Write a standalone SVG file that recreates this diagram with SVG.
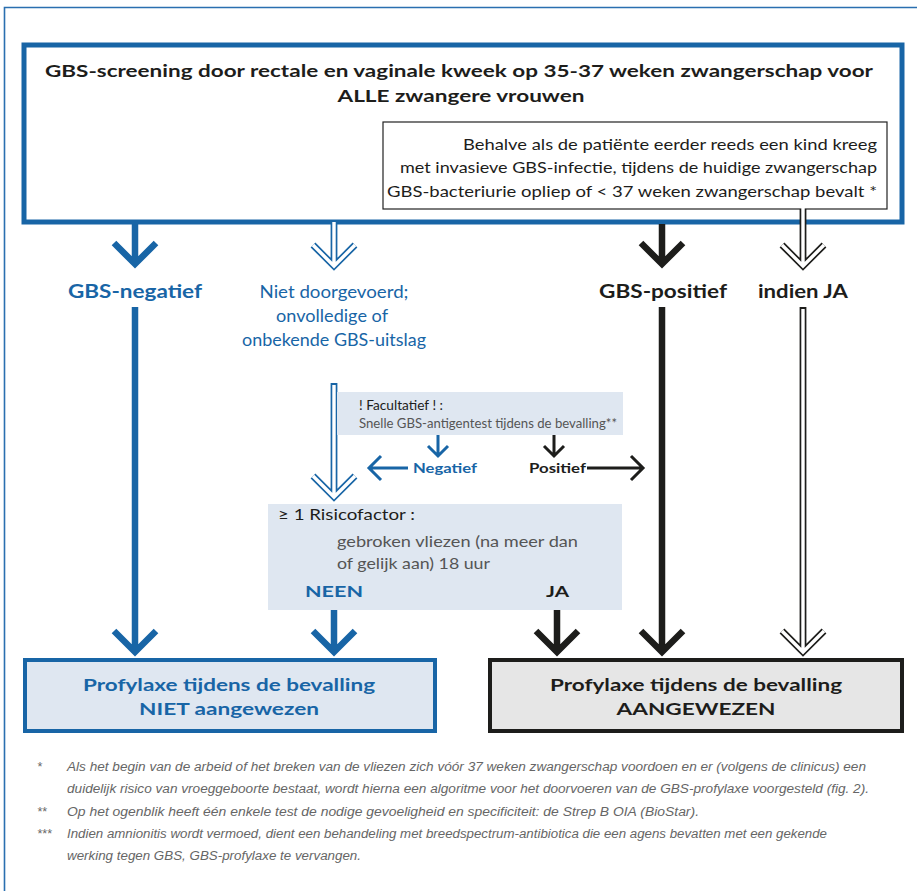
<svg xmlns="http://www.w3.org/2000/svg" width="917" height="891" viewBox="0 0 917 891">
<style>
text{font-family:Lato,"Open Sans","Liberation Sans",sans-serif}
.b{font-weight:bold}
.blue{fill:#1865a6}
.blk{fill:#1d1d1b}
.gry{fill:#555}
.fn{font-family:"Liberation Sans","DejaVu Sans",sans-serif;font-size:12.5px;font-style:italic;fill:#666}
.sb{fill:none;stroke:#1865a6;stroke-linejoin:miter;stroke-linecap:butt}
.sk{fill:none;stroke:#1d1d1b;stroke-linejoin:miter;stroke-linecap:butt}
.hw{fill:none;stroke:#fff;stroke-width:3.4;stroke-linejoin:miter;stroke-linecap:butt}
</style>
<g id="frame">
<path d="M4.5 891 V7.5 H917" fill="none" stroke="#2a6fb0" stroke-width="1.6"/>
</g>
<g id="screening">
<rect x="24" y="45" width="878" height="177" fill="#fff" stroke="#1865a6" stroke-width="5"/>
<text class="b blk" x="459" y="77" font-size="17.5" text-anchor="middle" textLength="828" lengthAdjust="spacingAndGlyphs">GBS-screening door rectale en vaginale kweek op 35-37 weken zwangerschap voor</text>
<text class="b blk" x="461" y="102" font-size="17.5" text-anchor="middle" textLength="247" lengthAdjust="spacingAndGlyphs">ALLE zwangere vrouwen</text>
</g>
<g id="behalve">
<rect x="383" y="122" width="504" height="87" fill="#fff" stroke="#222" stroke-width="1.2"/>
<text class="blk" x="877" y="150" font-size="15" text-anchor="end" textLength="414" lengthAdjust="spacingAndGlyphs">Behalve als de patiënte eerder reeds een kind kreeg</text>
<text class="blk" x="877" y="173" font-size="15" text-anchor="end" textLength="477" lengthAdjust="spacingAndGlyphs">met invasieve GBS-infectie, tijdens de huidige zwangerschap</text>
<text class="blk" x="877" y="197" font-size="15" text-anchor="end" textLength="490" lengthAdjust="spacingAndGlyphs">GBS-bacteriurie opliep of &lt; 37 weken zwangerschap bevalt *</text>
</g>
<g id="connectors">
<path class="sb" stroke-width="6.5" d="M135 224 V262 M114 243 L135 264 L156 243"/>
<path class="sb" stroke-width="6.5" d="M135 307 V650 M114 631 L135 652 L156 631"/>
<path class="sb" stroke-width="6.8" d="M334 224 V264 M313 245 L334 266 L355 245"/>
<path class="hw" d="M334 222 V264 M313 245 L334 266 L355 245"/>
<path class="sb" stroke-width="6.8" d="M334 383 V495 M313 476 L334 497 L355 476"/>
<path class="hw" d="M334 385 V495 M313 476 L334 497 L355 476"/>
<path class="sk" stroke-width="6.5" d="M662 224 V262 M641 243 L662 264 L683 243"/>
<path class="sk" stroke-width="6.5" d="M662 307 V650 M641 631 L662 652 L683 631"/>
<path class="sk" stroke-width="6.8" d="M803 209 V264 M782 245 L803 266 L824 245"/>
<path class="hw" d="M803 208 V264 M782 245 L803 266 L824 245"/>
<path class="sk" stroke-width="6.8" d="M803 307 V650 M782 631 L803 652 L824 631"/>
<path class="hw" d="M803 309 V650 M782 631 L803 652 L824 631"/>
<path class="sb" stroke-width="6.5" d="M334 610 V650 M313 631 L334 652 L355 631"/>
<path class="sk" stroke-width="6.5" d="M557 610 V650 M536 631 L557 652 L578 631"/>
<path class="sb" stroke-width="3" d="M438 435 V455 M428 446 L438 456 L448 446"/>
<path class="sk" stroke-width="3" d="M554 435 V455 M544 446 L554 456 L564 446"/>
<path class="sb" stroke-width="3" d="M408 468 H369 M381 456 L369 468 L381 480"/>
<path class="sk" stroke-width="3" d="M587 468 H643 M631 456 L643 468 L631 480"/>
</g>
<g id="lbl-negatief">
<text class="b blue" x="135" y="298" font-size="18" text-anchor="middle" textLength="134" lengthAdjust="spacingAndGlyphs">GBS-negatief</text>
</g>
<g id="lbl-niet">
<text class="blue" x="334" y="298" font-size="17" text-anchor="middle" textLength="149" lengthAdjust="spacingAndGlyphs">Niet doorgevoerd;</text>
<text class="blue" x="332" y="322" font-size="17" text-anchor="middle" textLength="112" lengthAdjust="spacingAndGlyphs">onvolledige of</text>
<text class="blue" x="334" y="346" font-size="17" text-anchor="middle" textLength="184" lengthAdjust="spacingAndGlyphs">onbekende GBS-uitslag</text>
</g>
<g id="lbl-positief">
<text class="b blk" x="663" y="298" font-size="18" text-anchor="middle" textLength="128" lengthAdjust="spacingAndGlyphs">GBS-positief</text>
</g>
<g id="lbl-indien">
<text class="b blk" x="803" y="298" font-size="18" text-anchor="middle" textLength="90" lengthAdjust="spacingAndGlyphs">indien JA</text>
</g>
<g id="facultatief">
<rect x="337" y="392" width="286" height="43" fill="#dfe7f1"/>
<text class="blk" x="359" y="410" font-size="13" textLength="84" lengthAdjust="spacingAndGlyphs">! Facultatief ! :</text>
<text class="gry" x="359" y="428" font-size="13" textLength="258" lengthAdjust="spacingAndGlyphs">Snelle GBS-antigentest tijdens de bevalling**</text>
</g>
<g id="lbl-neg2">
<text class="b blue" x="413" y="473" font-size="13" textLength="64" lengthAdjust="spacingAndGlyphs">Negatief</text>
</g>
<g id="lbl-pos2">
<text class="b blk" x="529" y="473" font-size="13" textLength="57" lengthAdjust="spacingAndGlyphs">Positief</text>
</g>
<g id="risico">
<rect x="268" y="504" width="354" height="106" fill="#dfe7f1"/>
<text class="blk" x="278" y="520" font-size="16" textLength="137" lengthAdjust="spacingAndGlyphs">≥ 1 Risicofactor :</text>
<text class="gry" x="337" y="547" font-size="16" textLength="241" lengthAdjust="spacingAndGlyphs">gebroken vliezen (na meer dan</text>
<text class="gry" x="337" y="569" font-size="16" textLength="153" lengthAdjust="spacingAndGlyphs">of gelijk aan) 18 uur</text>
<text class="b blue" x="305" y="597" font-size="16" textLength="58" lengthAdjust="spacingAndGlyphs">NEEN</text>
<text class="b blk" x="546" y="597" font-size="16" textLength="23" lengthAdjust="spacingAndGlyphs">JA</text>
</g>
<g id="niet-aangewezen">
<rect x="25" y="660" width="410" height="71" fill="#dfe7f1" stroke="#1865a6" stroke-width="4"/>
<text class="b blue" x="229" y="691" font-size="17" text-anchor="middle" textLength="292" lengthAdjust="spacingAndGlyphs">Profylaxe tijdens de bevalling</text>
<text class="b blue" x="229" y="715" font-size="17" text-anchor="middle" textLength="180" lengthAdjust="spacingAndGlyphs">NIET aangewezen</text>
</g>
<g id="aangewezen">
<rect x="490" y="660" width="412" height="71" fill="#e6e6e6" stroke="#1d1d1b" stroke-width="4"/>
<text class="b blk" x="696" y="691" font-size="17" text-anchor="middle" textLength="292" lengthAdjust="spacingAndGlyphs">Profylaxe tijdens de bevalling</text>
<text class="b blk" x="696" y="715" font-size="17" text-anchor="middle" textLength="159" lengthAdjust="spacingAndGlyphs">AANGEWEZEN</text>
</g>
<g id="footnotes">
<text class="fn" x="37" y="771">*</text>
<text class="fn" x="67" y="771" textLength="799" lengthAdjust="spacingAndGlyphs">Als het begin van de arbeid of het breken van de vliezen zich vóór 37 weken zwangerschap voordoen en er (volgens de clinicus) een</text>
<text class="fn" x="67" y="793" textLength="802" lengthAdjust="spacingAndGlyphs">duidelijk risico van vroeggeboorte bestaat, wordt hierna een algoritme voor het doorvoeren van de GBS-profylaxe voorgesteld (fig. 2).</text>
<text class="fn" x="37" y="816">**</text>
<text class="fn" x="67" y="816" textLength="632" lengthAdjust="spacingAndGlyphs">Op het ogenblik heeft één enkele test de nodige gevoeligheid en specificiteit: de Strep B OIA (BioStar).</text>
<text class="fn" x="37" y="838">***</text>
<text class="fn" x="67" y="838" textLength="760" lengthAdjust="spacingAndGlyphs">Indien amnionitis wordt vermoed, dient een behandeling met breedspectrum-antibiotica die een agens bevatten met een gekende</text>
<text class="fn" x="67" y="860" textLength="294" lengthAdjust="spacingAndGlyphs">werking tegen GBS, GBS-profylaxe te vervangen.</text>
</g>
</svg>
